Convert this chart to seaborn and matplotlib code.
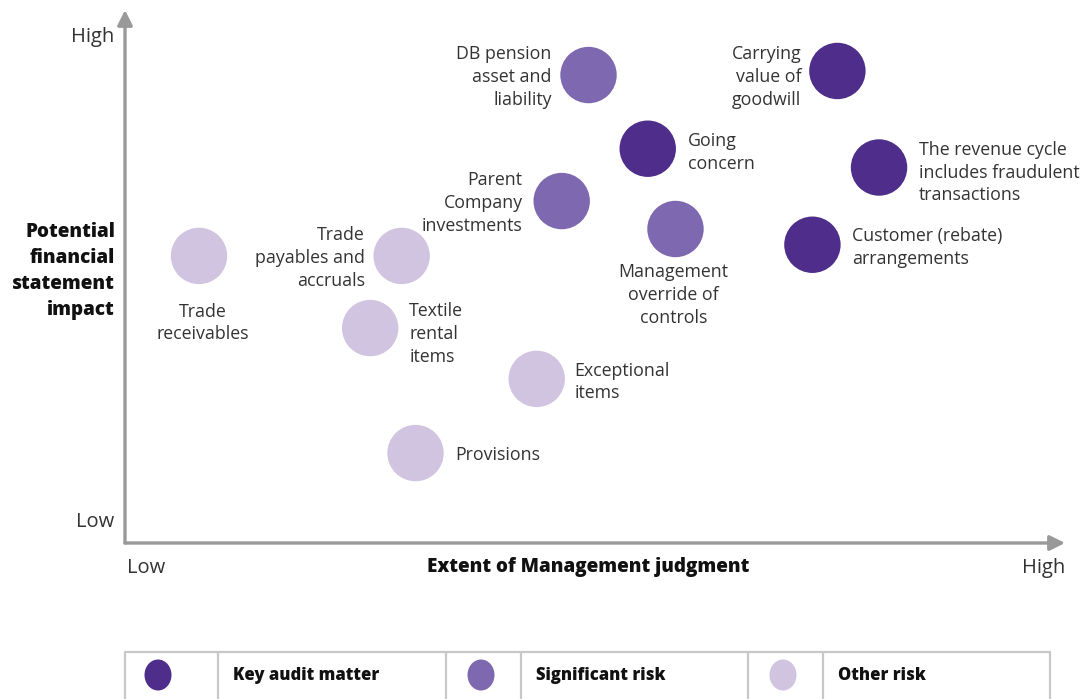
import matplotlib.pyplot as plt
import seaborn as sns
import pandas as pd
from matplotlib.patches import Ellipse

# risk items: extent of judgment (x, 0-100) vs financial impact (y, 0-100)
items = ["Trade\nreceivables", "Trade\npayables and\naccruals", "Textile\nrental\nitems",
         "Exceptional\nitems", "Provisions", "DB pension\nasset and\nliability",
         "Parent\nCompany\ninvestments", "Management\noverride of\ncontrols",
         "Going\nconcern", "Carrying\nvalue of\ngoodwill",
         "The revenue cycle\nincludes fraudulent\ntransactions",
         "Customer (rebate)\narrangements"]
judgment = [8.0, 29.9, 26.5, 44.5, 31.4, 50.1, 47.2, 59.5, 56.5, 77.0, 81.5, 74.3]
impact = [56.5, 56.5, 42.3, 32.3, 17.7, 92.1, 67.3, 61.8, 77.6, 92.9, 73.9, 58.7]
risk = ["Other risk", "Other risk", "Other risk", "Other risk", "Other risk",
        "Significant risk", "Significant risk", "Significant risk",
        "Key audit matter", "Key audit matter", "Key audit matter", "Key audit matter"]

categories = ["Key audit matter", "Significant risk", "Other risk"]
colors = {"Key audit matter": "#4e2d8b", "Significant risk": "#7e68b0", "Other risk": "#d1c4e0"}

# label placement (pixel offset from bubble centre, alignment)
label_pos = [(4, -67, "center"), (-37, -2, "right"), (39, -6, "left"), (38, -3, "left"),
             (40, -2, "left"), (-37, -2, "right"), (-39, -2, "right"), (-2, -66, "center"),
             (40, -4, "left"), (-36, -6, "right"), (40, -5, "left"), (40, -3, "left")]

df = pd.DataFrame({"item": items, "judgment": judgment, "impact": impact, "risk": risk})

sns.set_style("white")
plt.rcParams["font.family"] = ["Open Sans", "DejaVu Sans"]

W, H = 1083, 699
fig = plt.figure(figsize=(W / 100, H / 100), dpi=100)
ax = fig.add_axes([125 / W, (H - 543) / H, 940 / W, 533 / H])

sns.scatterplot(data=df, x="judgment", y="impact", hue="risk", palette=colors,
                s=1650, linewidth=0, legend=False, ax=ax, zorder=3)
ax.set_xlim(0, 101.6)
ax.set_ylim(0, 104.9)
for s in ax.spines.values():
    s.set_visible(False)
ax.set_xticks([])
ax.set_yticks([])
ax.set_xlabel("")
ax.set_ylabel("")

txt = "#333333"
for (name, x, y), (dx, dy, ha) in zip(zip(items, judgment, impact), label_pos):
    ax.annotate(name, (x, y), xytext=(dx, dy), textcoords="offset pixels",
                ha=ha, va="center", fontsize=12.8, color=txt, linespacing=1.34)

# axis arrows
arrow = dict(arrowstyle="-|>,head_length=0.9,head_width=0.45", color="#999999", lw=2.4,
             shrinkA=0, shrinkB=0)
ax.annotate("", xy=(101.6, 0), xytext=(0, 0), arrowprops=arrow, annotation_clip=False)
ax.annotate("", xy=(0, 104.9), xytext=(0, 0), arrowprops=arrow, annotation_clip=False)

fig.text(114 / W, 1 - 37 / H, "High", ha="right", va="center", fontsize=14.5, color=txt)
fig.text(114 / W, 1 - 522 / H, "Low", ha="right", va="center", fontsize=14.5, color=txt)
fig.text(127 / W, 1 - 568 / H, "Low", ha="left", va="center", fontsize=14.5, color=txt)
fig.text(1065 / W, 1 - 568 / H, "High", ha="right", va="center", fontsize=14.5, color=txt)
fig.text(115 / W, 1 - 271 / H, "Potential\nfinancial\nstatement\nimpact", ha="right", va="center",
         fontsize=13.6, fontweight="heavy", color="#111111", linespacing=1.4)
fig.text(588 / W, 1 - 567 / H, "Extent of Management judgment", ha="center", va="center",
         fontsize=13.6, fontweight="heavy", color="#111111")

# legend table
lax = fig.add_axes([0, 0, 1, 1])
lax.set_xlim(0, W)
lax.set_ylim(H, 0)
lax.axis("off")
lax.set_zorder(-1)
grid = "#c8c8c8"
lax.plot([125, 1050], [652, 652], color=grid, lw=1.6)
for xv in [125, 218, 446, 521, 748, 823, 1050]:
    lax.plot([xv, xv], [652, H], color=grid, lw=1.6)
for cat, ex, tx in zip(categories, [158, 481, 783], [233, 536, 838]):
    lax.add_patch(Ellipse((ex, 675), 27, 31, color=colors[cat], lw=0))
    lax.text(tx, 676, cat, ha="left", va="center", fontsize=12, fontweight="heavy", color="#111111")

fig.savefig("out.png", dpi=100)
